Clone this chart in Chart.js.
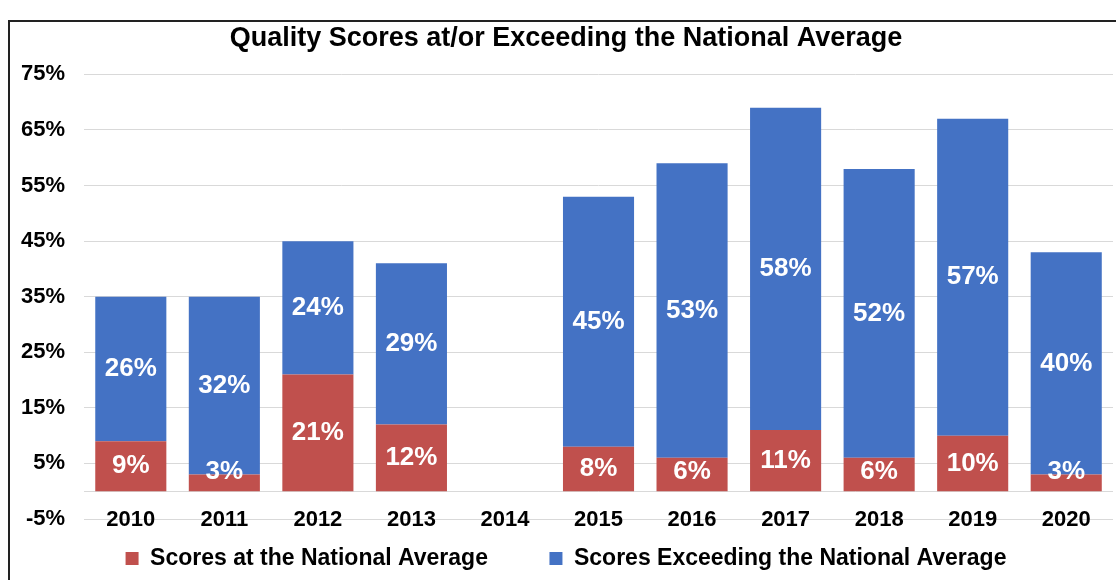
<!DOCTYPE html>
<html>
<head>
<meta charset="utf-8">
<script src="https://cdn.jsdelivr.net/npm/chart.js@4"></script>
<style>
  body { margin: 0; background: #fff; overflow: hidden; }
  #frame {
    position: absolute; left: 8px; top: 20px; width: 1108px; height: 560px;
    border-top: 2px solid #222; border-left: 2px solid #222;
  }
  #wrap { position: absolute; left: -8px; top: 0; width: 1128px; height: 558px; }
</style>
</head>
<body>
<div id="frame"><div id="wrap"><canvas id="myChart"></canvas></div></div>
<script>
// years on the x axis
const years = ['2010', '2011', '2012', '2013', '2014', '2015', '2016', '2017', '2018', '2019', '2020'];
// % of scores at the national average
const atAverage = [9, 3, 21, 12, null, 8, 6, 11, 6, 10, 3];
// % of scores exceeding the national average
const exceeding = [26, 32, 24, 29, null, 45, 53, 58, 52, 57, 40];
// y axis ticks: -5% .. 75% by 10
const yMin = -5, yMax = 75, yStep = 10;

const FONT = "'Liberation Sans', Arial, sans-serif";

// white value labels in the middle of each segment
const segmentLabels = {
  id: 'segmentLabels',
  afterDatasetsDraw(chart) {
    const ctx = chart.ctx;
    ctx.save();
    ctx.fillStyle = '#fff';
    ctx.font = 'bold 26px ' + FONT;
    ctx.textAlign = 'center';
    ctx.textBaseline = 'middle';
    chart.data.datasets.forEach((ds, i) => {
      chart.getDatasetMeta(i).data.forEach((bar, j) => {
        const v = ds.data[j];
        if (v == null) return;
        const p = bar.getProps(['x', 'y', 'base'], true);
        const cy = Math.min((p.y + p.base) / 2, p.base - 19);
        ctx.fillText(v + '%', p.x, cy);
      });
    });
    ctx.restore();
  }
};

// horizontal axis line at 0
const zeroLine = {
  id: 'zeroLine',
  beforeDatasetsDraw(chart) {
    const ctx = chart.ctx, a = chart.chartArea;
    const y = Math.round(chart.scales.y.getPixelForValue(0)) + 0.5;
    ctx.save();
    ctx.strokeStyle = '#d9d9d9';
    ctx.lineWidth = 1;
    ctx.beginPath();
    ctx.moveTo(a.left, y);
    ctx.lineTo(a.right, y);
    ctx.stroke();
    ctx.restore();
  }
};

var ctx = document.getElementById('myChart').getContext('2d');
var myChart = new Chart(ctx, {
  type: 'bar',
  data: {
    labels: years,
    datasets: [{
      label: 'Scores at the National Average',
      data: atAverage,
      backgroundColor: '#c0504d',
      borderWidth: 0
    }, {
      label: 'Scores Exceeding the National Average',
      data: exceeding,
      backgroundColor: '#4472c4',
      borderWidth: 0
    }]
  },
  options: {
    responsive: true,
    maintainAspectRatio: false,
    animation: false,
    layout: { padding: 0 },
    datasets: { bar: { categoryPercentage: 0.76, barPercentage: 1 } },
    plugins: {
      title: {
        display: true,
        text: 'Quality Scores at/or Exceeding the National Average',
        color: '#000',
        font: { family: FONT, size: 27, weight: 'bold' },
        padding: { top: 0, bottom: 20 }
      },
      legend: {
        position: 'bottom',
        labels: {
          color: '#000',
          font: { family: FONT, size: 23, weight: 'bold' },
          boxWidth: 13,
          boxHeight: 13,
          padding: 4,
          generateLabels(chart) {
            const items = Chart.defaults.plugins.legend.labels.generateLabels(chart);
            items[0].text += '         ';
            return items;
          }
        }
      },
      tooltip: { enabled: false }
    },
    scales: {
      x: {
        stacked: true,
        grid: { display: false, drawTicks: false },
        border: { display: false },
        afterFit(scale) { scale.height = 24; },
        ticks: {
          mirror: true,
          color: '#000',
          font: { family: FONT, size: 22, weight: 'bold' },
          padding: -14
        }
      },
      y: {
        stacked: true,
        min: yMin,
        max: yMax,
        grid: { color: '#d9d9d9', drawTicks: false },
        border: { display: false },
        ticks: {
          stepSize: yStep,
          color: '#000',
          padding: 19,
          font: { family: FONT, size: 22, weight: 'bold' },
          callback: v => v + '%'
        }
      },
      // empty strip on the right, the chart is cut off there
      yRight: {
        position: 'right',
        grid: { display: false },
        border: { display: false },
        ticks: { display: false },
        afterFit(scale) { scale.width = 17; }
      }
    }
  },
  plugins: [zeroLine, segmentLabels]
});
</script>
</body>
</html>
